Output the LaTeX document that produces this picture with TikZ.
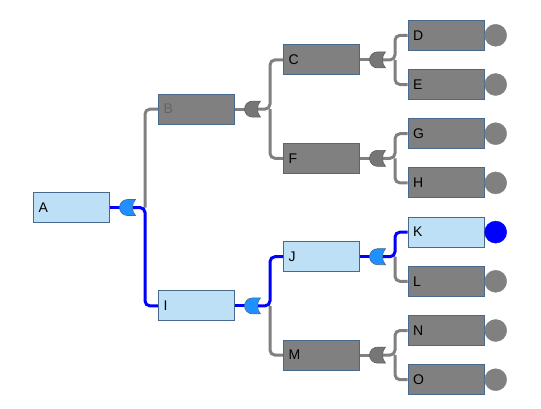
\documentclass[tikz,border=0pt]{standalone}
\usepackage{fontspec}
\setmainfont{Liberation Sans}
\usetikzlibrary{calc}
\definecolor{boxgrey}{RGB}{128,128,128}
\definecolor{boxblue}{RGB}{190,224,247}
\definecolor{edgecol}{RGB}{70,105,140}
\definecolor{gategrey}{RGB}{118,118,118}
\definecolor{gateblue}{RGB}{30,144,255}
\definecolor{hiblue}{RGB}{0,0,255}
\definecolor{dimtext}{RGB}{100,100,100}
\tikzset{
  x=1pt, y=-1pt,
  evbox/.style={draw=edgecol, line width=1pt, rectangle, anchor=west,
    minimum width=76pt, minimum height=30pt, text width=66pt, align=left,
    inner xsep=4.5pt, inner ysep=0pt, font=\fontsize{14}{14}\selectfont},
  greybox/.style={evbox, fill=boxgrey},
  bluebox/.style={evbox, fill=boxblue},
  greyline/.style={draw=boxgrey, line width=3pt, rounded corners=5pt},
  blueline/.style={draw=hiblue, line width=3pt, rounded corners=5pt},
  greygate/.style={fill=gategrey, draw=gategrey!80!black, line width=0.6pt},
  bluegate/.style={fill=gateblue, draw=edgecol, line width=0.6pt},
  leafgrey/.style={circle, fill=boxgrey, draw=boxgrey, minimum size=22pt, inner sep=0pt, anchor=west},
  leafblue/.style={circle, fill=hiblue, draw=hiblue, minimum size=22pt, inner sep=0pt, anchor=west},
}
% gate: name, left point, style
\newcommand\orgatedraw[3]{%
  \coordinate (#1) at (#2);
  \path[#3, shift={(#2)}] (8,-8) .. controls (3.6,-8) and (0,-4.4) .. (0,0)
     .. controls (0,4.4) and (3.6,8) .. (8,8) -- (16,8)
     .. controls (12,4) and (12,-4) .. (16,-8) -- cycle;
}
\begin{document}
\begin{tikzpicture}
\useasboundingbox (0,0) rectangle (541,408);
% boxes
\node[bluebox] (A) at (33,207.5) {A};
\node[greybox, text=dimtext] (B) at (158,109.1) {B};
\node[bluebox] (I) at (158,305.9) {I};
\node[greybox] (C) at (283,59.9) {C};
\node[greybox] (F) at (283,158.3) {F};
\node[bluebox] (J) at (283,256.7) {J};
\node[greybox] (M) at (283,355.1) {M};
\node[greybox] (D) at (407.5,35.3) {D};
\node[greybox] (E) at (407.5,84.5) {E};
\node[greybox] (G) at (407.5,133.7) {G};
\node[greybox] (H) at (407.5,182.9) {H};
\node[bluebox] (K) at (407.5,232.1) {K};
\node[greybox] (L) at (407.5,281.3) {L};
\node[greybox] (N) at (407.5,330.5) {N};
\node[greybox] (O) at (407.5,379.7) {O};
% leaf circles
\foreach \n in {D,E,G,H,L,N,O} \node[leafgrey] (c\n) at (\n.east) {};
\node[leafblue] (cK) at (K.east) {};
% gate anchor points and branch points
\foreach \g in {A,B,I,C,F,J,M}{
  \coordinate (g\g) at ($(\g.east)+(9.5,0)$);
  \coordinate (go\g) at ($(\g.east)+(22.5,0)$);
  \coordinate (br\g) at ($(\g.east)+(35,0)$);
}
% grey connectors
\foreach \p/\u/\d in {B/C/F, C/D/E, F/G/H, M/N/O}{
  \draw[greyline] (\p.east) -- (g\p);
  \draw[greyline] (go\p) -- (br\p) |- (\u.west);
  \draw[greyline] (br\p) |- (\d.west);
}
\draw[greyline] (brA) |- (B.west);
\draw[greyline] (brI) |- (M.west);
\draw[greyline] (brJ) |- (L.west);
% blue connectors
\foreach \p/\c in {A/I, I/J, J/K}{
  \draw[blueline] (\p.east) -- (g\p);
  \draw[blueline] (go\p) -- (br\p) |- (\c.west);
}
% gates
\orgatedraw{gateA}{gA}{bluegate}
\orgatedraw{gateI}{gI}{bluegate}
\orgatedraw{gateJ}{gJ}{bluegate}
\orgatedraw{gateB}{gB}{greygate}
\orgatedraw{gateC}{gC}{greygate}
\orgatedraw{gateF}{gF}{greygate}
\orgatedraw{gateM}{gM}{greygate}
\end{tikzpicture}
\end{document}
